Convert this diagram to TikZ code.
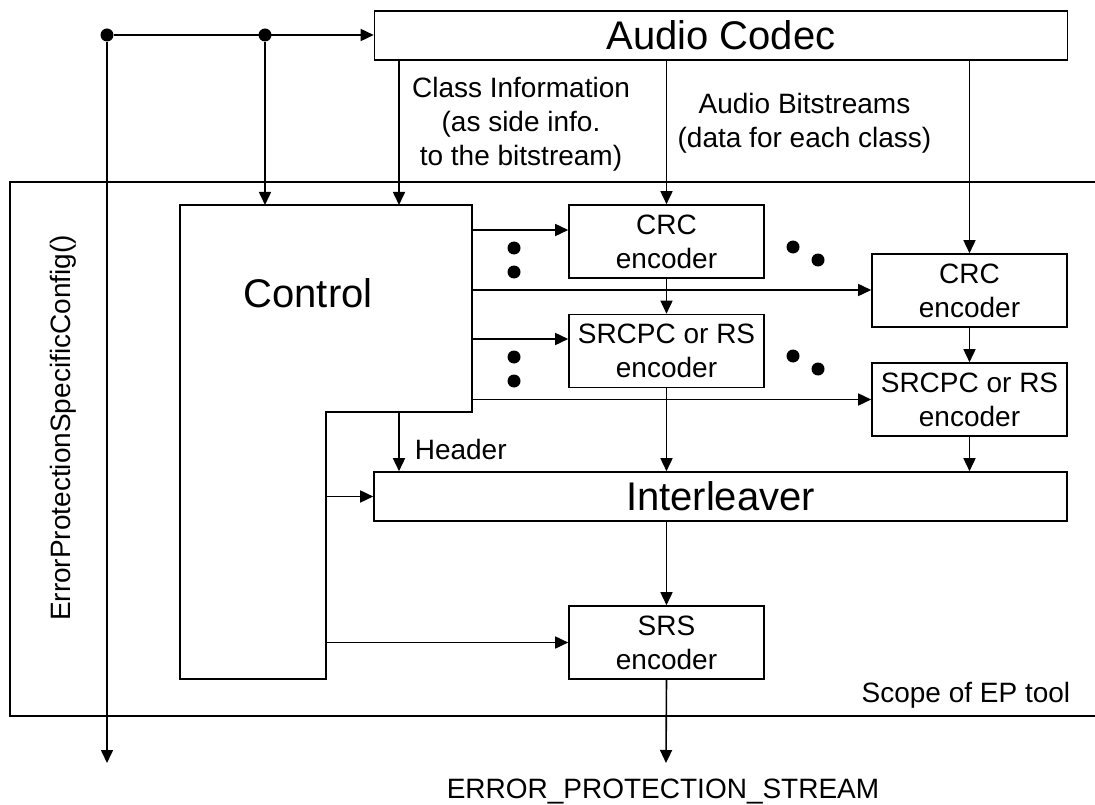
\documentclass[tikz,border=0pt]{standalone}
\usepackage{fontspec}
\setmainfont{Liberation Sans}
\usetikzlibrary{arrows.meta}
\newcommand\epSmall{\fontsize{28}{34}\selectfont}
\newcommand\epBig{\fontsize{40}{48}\selectfont}
\begin{document}
\begin{tikzpicture}[x=1pt,y=-1pt,line width=1.6pt,
  arr/.style={-{Triangle[length=13pt,width=12pt]}},
  box/.style={draw,rectangle,inner sep=0pt,align=center},
  wide/.style={box,minimum width=693pt,minimum height=49pt,font=\epBig},
  enc/.style={box,minimum width=195pt,minimum height=73pt,font=\epSmall},
  dot/.style={circle,fill=black,inner sep=0pt,minimum size=13pt},
  lbl/.style={inner sep=0pt,align=center,font=\epSmall}]

% page
\fill[white] (0,0) rectangle (1095,805);
\useasboundingbox (0,0) rectangle (1095,805);

% scope of the EP tool (open to the right)
\draw (1095,182) -| (10,716) -- (1095,716);
\node[lbl,anchor=base east] (scope) at (1071,702) {Scope of EP tool};
\node[lbl,anchor=base,rotate=90] (epsc) at (70,428) {ErrorProtectionSpecificConfig()};

% blocks
\node[wide] (codec) at (721,35.5) {Audio Codec};
\node[enc] (crc1) at (666.5,241.5) {CRC\\encoder};
\node[enc] (srcpc1) at (666.5,351) {SRCPC or RS\\encoder};
\node[enc] (crc2) at (969.5,290.5) {CRC\\encoder};
\node[enc] (srcpc2) at (969.5,399.5) {SRCPC or RS\\encoder};
\node[wide] (il) at (720.5,496.5) {Interleaver};
\node[enc] (srs) at (666.5,642.5) {SRS\\encoder};

% control block (L-shaped)
\coordinate (c1) at (180,205);
\coordinate (c2) at (472,205);
\coordinate (c3) at (472,412);
\coordinate (c4) at (326,412);
\coordinate (c5) at (326,679);
\coordinate (c6) at (180,679);
\draw (c1) -- (c2) -- (c3) -- (c4) -- (c5) -- (c6) -- cycle;
\node[inner sep=0pt,font=\epBig,anchor=base] (ctl) at (308,307) {Control};

% branch points and free ends
\node[dot] (d1) at (107,35) {};
\node[dot] (d2) at (265,35) {};
\coordinate (ci) at (399,0);
\coordinate (outL) at (107,763);
\coordinate (outS) at (666,763);

% input distribution
\draw[arr] (d1) -- (codec.west |- d1);
\draw[arr] (d1) -- (outL);
\draw[arr] (d2) -- (d2 |- c1);
\draw[arr] (codec.south -| ci) -- (c1 -| ci);
\draw[arr] (codec.south -| crc1.north) -- (crc1.north);
\draw[arr] (codec.south -| crc2.north) -- (crc2.north);

\node[lbl] (cinfo) at (521,124) {Class Information\\(as side info.\\to the bitstream)};
\node[lbl] (abits) at (804.5,123) {Audio Bitstreams\\(data for each class)};

% control outputs
\draw[arr] (c2 |- 0,230) -- (crc1.west |- 0,230);
\draw[arr] (c2 |- 0,290) -- (crc2.west |- 0,290);
\draw[arr] (c2 |- 0,339) -- (srcpc1.west |- 0,339);
\draw[arr] (c2 |- 0,399.5) -- (srcpc2.west);
\draw[arr] (c4 -| ci) -- (il.north -| ci);
\node[lbl,anchor=base west] (hdr) at (414,459) {Header};
\draw[arr] (c5 |- il.west) -- (il.west);
\draw[arr] (c5 |- srs.west) -- (srs.west);

% coding chain
\draw[arr] (crc1.south) -- (srcpc1.north);
\draw[arr] (crc2.south) -- (srcpc2.north);
\draw[arr] (srcpc1.south) -- (srcpc1.south |- il.north);
\draw[arr] (srcpc2.south) -- (srcpc2.south |- il.north);
\draw[arr] (il.south -| srs.north) -- (srs.north);
\draw[arr] (srs.south) -- (outS);
\node[lbl,anchor=base] (eps) at (663,798) {ERROR\_PROTECTION\_STREAM};

% ellipsis dots
\node[dot] (e1) at (514,248) {};
\node[dot] (e2) at (514,272) {};
\node[dot] (e3) at (793,247) {};
\node[dot] (e4) at (818,260) {};
\node[dot] (e5) at (514,357) {};
\node[dot] (e6) at (514,381) {};
\node[dot] (e7) at (793,356) {};
\node[dot] (e8) at (818,369) {};
\end{tikzpicture}
\end{document}
